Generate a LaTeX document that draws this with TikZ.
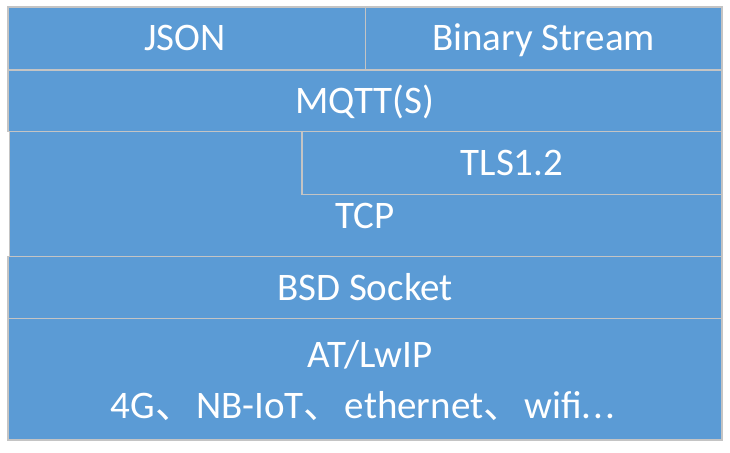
\documentclass[tikz,border=0pt]{standalone}
\usepackage{fontspec}
\setmainfont{Carlito}
\newfontfamily\cjk{Noto Sans CJK SC}
\definecolor{boxblue}{HTML}{5B9BD5}
\definecolor{boxline}{HTML}{C4C4C4}
\newcommand{\dun}{{\cjk 、}\hspace{2pt}}
\begin{document}
\begin{tikzpicture}[x=1pt,y=-1pt,
  layer/.style={fill=boxblue,draw=boxline,line width=1.3pt},
  lbl/.style={text=white,font=\fontsize{39}{44}\selectfont,inner sep=0pt,anchor=base}]
\useasboundingbox (0,0) rectangle (730,452);
% boxes
\draw[layer] (8,7) rectangle (365.5,70);
\draw[layer] (365.5,7) rectangle (722,70);
\draw[layer] (8,70) rectangle (722,131.5);
\draw[layer] (9.5,131.5) rectangle (722,256.5);
\draw[layer] (302,131.5) rectangle (722,194.5);
\draw[layer] (8,256.5) rectangle (722,318.5);
\draw[layer] (8,318.5) rectangle (722,440);
% labels
\node[lbl] (json) at (185,51) {JSON};
\node[lbl] (bin) at (543.5,51) {Binary Stream};
\node[lbl] (mqtt) at (365,113) {MQTT(S)};
\node[lbl] (tls) at (512,175) {TLS1.2};
\node[lbl] (tcp) at (365,228) {TCP};
\node[lbl] (bsd) at (365,300) {BSD Socket};
\node[lbl] (at) at (370,367) {AT/LwIP};
\node[lbl] (net) at (363,418) {4G\dun NB-IoT\dun ethernet\dun wifi{.}\kern2pt{.}\kern2pt{.}};
\end{tikzpicture}
\end{document}
